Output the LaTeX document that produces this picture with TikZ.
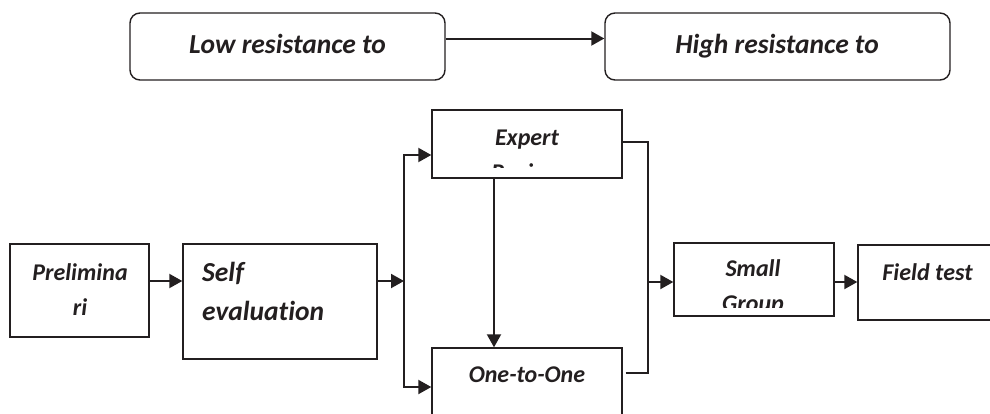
\documentclass[tikz,border=0pt]{standalone}
\usepackage{fontspec}
\setmainfont{Carlito}[Ligatures=NoCommon]
\usetikzlibrary{arrows.meta}
\definecolor{ink}{HTML}{231F20}
\tikzset{
	box/.style = {draw = ink, line width = 1.4pt, inner sep = 0pt, rectangle},
	roundbox/.style = {box, rounded corners = 10pt},
	lbl/.style = {inner sep = 0pt, anchor = base, text = ink, font = \fontsize{24}{35}\selectfont\bfseries\itshape},
	biglbl/.style = {lbl, font = \fontsize{27.5}{39}\selectfont\bfseries\itshape},
	link/.style = {draw = ink, line width = 2pt},
	arr/.style = {link, -{Triangle[length=13pt, width=14pt]}}
}
\newcommand{\cliptext}[2]{\clip ([xshift=2pt, yshift=-2pt]#1.north west) rectangle ([xshift=-2pt, yshift=#2]#1.south east);}

\begin{document}
\begin{tikzpicture}[x = 1pt, y = -1pt]

					\useasboundingbox (0,0) rectangle (990,413);

					\node[roundbox, minimum width = 315pt, minimum height = 67pt] (low) at (287.5,46.5) {};
					\node[roundbox, minimum width = 345pt, minimum height = 67pt] (high) at (777.5,46.5) {};
					\node[biglbl] (lowtext) at (287.5,53) {Low resistance to};
					\node[biglbl] (hightext) at (777,53) {High resistance to};

					\node[box, minimum width = 139pt, minimum height = 93pt] (pre) at (79.5,290.5) {};
					\node[box, minimum width = 194pt, minimum height = 115pt] (self) at (280,301.5) {};
					\node[box, minimum width = 190pt, minimum height = 68pt] (exp) at (527,144) {};
					\node[box, minimum width = 190pt, minimum height = 78pt] (one) at (527,387) {};
					\node[box, minimum width = 160pt, minimum height = 73pt] (small) at (754,279.5) {};
					\node[box, minimum width = 142pt, minimum height = 75pt] (field) at (929,282.5) {};

					\node[lbl, align = center] (pretext) at (80,315) {Prelimina\\ri};
					\node[biglbl, align = left, anchor = base west] (selftext) at (202,320) {Self\\evaluation};
					\begin{scope}
						\cliptext{exp}{11pt}
						\node[lbl, align = center] (exptext) at (527,180) {Expert\\Review};
					\end{scope}
					\node[lbl] (onetext) at (527,382) {One-to-One};
					\begin{scope}
						\cliptext{small}{9pt}
						\node[lbl, align = center] (smalltext) at (753,311) {Small\\Group};
					\end{scope}
					\node[lbl] (fieldtext) at (927.5,280) {Field test};

					\coordinate (split) at (404,281);
					\coordinate (join) at (648,282);

					\draw[arr] ([yshift=8pt]low.east) -- ([yshift=8pt]high.west);
					\draw[arr] (pre.east |- split) -- (self.west |- split);
					\draw[arr] (self.east |- split) -- (split);
					\draw[arr] (split) |- ([yshift=-11pt]exp.west);
					\draw[arr] (split) |- (one.west);
					\draw[arr] ([xshift=-33pt]exp.south) -- ([xshift=-33pt]one.north);
					\draw[link, line width = 1.4pt] ([yshift=2pt]exp.east) -| (join);
					\draw[link, line width = 1.4pt] ([xshift=3pt, yshift=14pt]one.east) -| (join);
					\draw[arr] (join) -- (small.west |- join);
					\draw[arr] (small.east |- join) -- (field.west |- join);

				\end{tikzpicture}
\end{document}
